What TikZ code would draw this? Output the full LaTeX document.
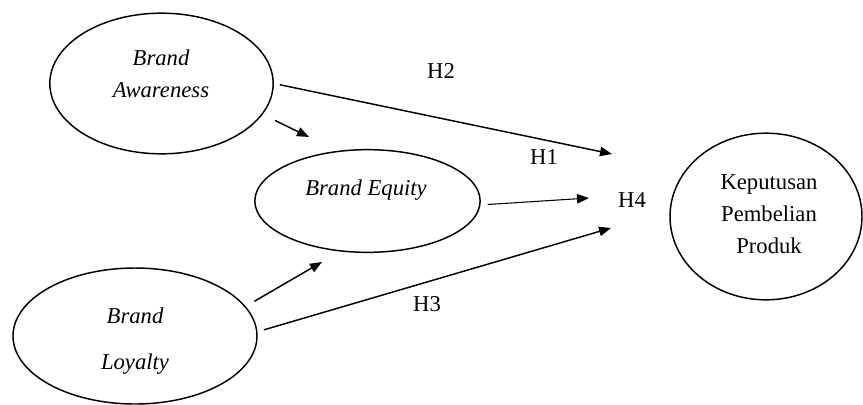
\documentclass[tikz,border=0pt]{standalone}
\usepackage{fontspec}
\setmainfont{Liberation Serif}
\usetikzlibrary{arrows.meta,shapes.geometric}

\begin{document}
\begin{tikzpicture}[
  x=0.75pt, y=-0.75pt,
  font=\fontsize{17}{24}\selectfont,
  oval/.style={draw,ellipse,line width=1.1pt,inner sep=0pt},
  txt/.style={align=center,inner sep=0pt},
  ittxt/.style={txt,font=\fontsize{17}{24}\selectfont\itshape},
  arrow/.style={-{Triangle[length=9pt,width=7pt]},line width=1.1pt}
]
\useasboundingbox (0,0) rectangle (863,404);
% constructs
\node[oval,minimum width=167.5pt,minimum height=105.5pt] (aware) at (161.5,83.5) {};
\node[oval,minimum width=169pt,minimum height=77pt] (equity) at (367.5,201) {};
\node[oval,minimum width=183pt,minimum height=102pt] (loyal) at (135,336) {};
\node[oval,minimum width=144pt,minimum height=125pt] (buy) at (766,216.5) {};
\node[ittxt] (aware txt) at (161,74) {Brand\\Awareness};
\node[ittxt] (equity txt) at (366,190) {Brand Equity};
\node[ittxt] (loyal txt) at (135,341) {Brand\\[11pt]Loyalty};
\node[txt] (buy txt) at (769,214) {Keputusan\\Pembelian\\Produk};
% free arrow tips
\coordinate (h2 tip) at (612,154);
\coordinate (h4 tip) at (589,198);
\coordinate (h3 tip) at (611,228);
\coordinate (ba tip) at (309,137);
\coordinate (bl tip) at (322,262);
\draw[arrow,shorten <=4.5pt] (aware.east) -- (h2 tip);
\draw[arrow,shorten <=10.3pt] (aware.-17) -- (ba tip);
\draw[arrow,shorten <=7.5pt] (loyal.15) -- (bl tip);
\draw[arrow,shorten <=5pt] (loyal.2) -- (h3 tip);
\draw[arrow,line width=0.8pt,shorten <=5.3pt] (equity.-2) -- (h4 tip);
% hypotheses
\node[txt] (h2) at (441,71) {H2};
\node[txt] (h1) at (544,157) {H1};
\node[txt] (h4) at (632,200) {H4};
\node[txt] (h3) at (427,304) {H3};
\end{tikzpicture}
\end{document}
